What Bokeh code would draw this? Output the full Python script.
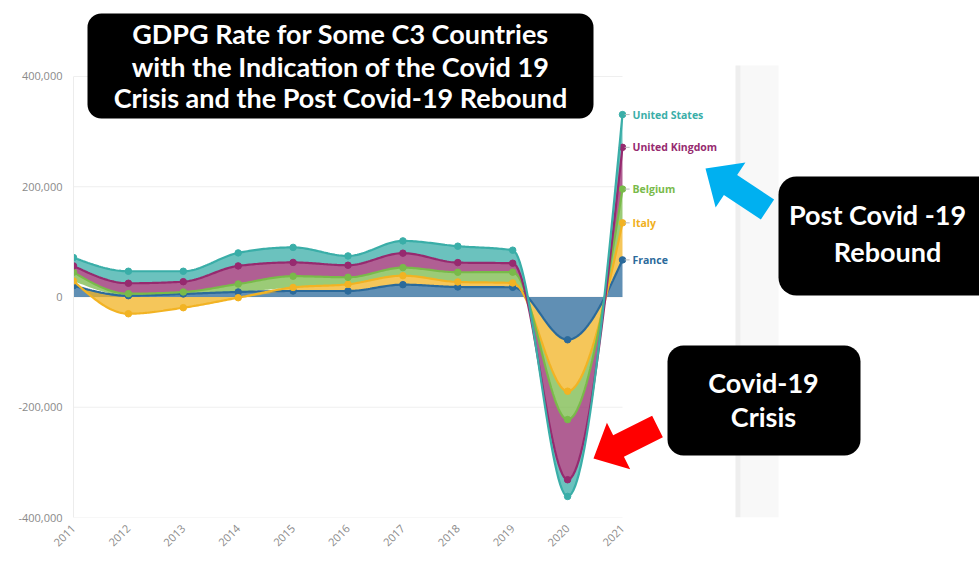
import math
import numpy as np
from bokeh.plotting import figure
from bokeh.models import Range1d, FixedTicker, NumeralTickFormatter, BoxAnnotation
from bokeh.core.properties import value
from bokeh.embed import file_html
from bokeh.resources import INLINE

# ---------------- data ----------------
years = [2011, 2012, 2013, 2014, 2015, 2016, 2017, 2018, 2019, 2020, 2021]
countries = ["France", "Italy", "Belgium", "United Kingdom", "United States"]
france = [20500, 2400, 5500, 9100, 10900, 10900, 22400, 18200, 17600, -77600, 67300]
italy = [8600, -30400, -19400, -1300, 6400, 12200, 16300, 9100, 7900, -93300, 67200]
belgium = [15800, 3600, 3600, 14500, 20500, 12700, 14600, 17600, 19600, -51500, 61300]
uk = [11500, 18900, 18700, 32800, 24900, 21800, 26200, 17500, 16200, -109100, 75700]
us = [15100, 21800, 18900, 23600, 27300, 16900, 22300, 29800, 23600, -30300, 59400]
y_ticks = [-400000, -200000, 0, 200000, 400000]

series = [france, italy, belgium, uk, us]
line_colors = ["#2b6a9b", "#f2b323", "#79ba4a", "#962a6f", "#3aaea8"]
label_colors = ["#2b6a9b", "#f0b020", "#79ba4a", "#962a6f", "#3aaea8"]

# ---------------- stacking (positives and negatives stacked separately) ----------------
n = len(years)
lowers, uppers = [], []
pos = np.zeros(n)
neg = np.zeros(n)
for s in series:
    v = np.array(s, dtype=float)
    lo = np.where(v >= 0, pos, neg)
    up = lo + v
    pos = np.where(v >= 0, up, pos)
    neg = np.where(v < 0, up, neg)
    lowers.append(lo)
    uppers.append(up)


def monotone(xs, ys, steps=30):
    """Monotone-X cubic curve through the points (as drawn by d3's curveMonotoneX)."""
    xs = np.asarray(xs, float)
    ys = np.asarray(ys, float)
    h = np.diff(xs)
    s = np.diff(ys) / h
    m = np.zeros(len(xs))
    for i in range(1, len(xs) - 1):
        s0, s1 = s[i - 1], s[i]
        p = (s0 * h[i] + s1 * h[i - 1]) / (h[i - 1] + h[i])
        m[i] = (np.sign(s0) + np.sign(s1)) * min(abs(s0), abs(s1), 0.5 * abs(p))
    m[0] = (3 * s[0] - m[1]) / 2
    m[-1] = (3 * s[-1] - m[-2]) / 2
    ox, oy = [], []
    for i in range(len(xs) - 1):
        t = np.linspace(0, 1, steps, endpoint=(i == len(xs) - 2))
        h00 = 2 * t**3 - 3 * t**2 + 1
        h10 = t**3 - 2 * t**2 + t
        h01 = -2 * t**3 + 3 * t**2
        h11 = t**3 - t**2
        ox.extend(xs[i] + t * h[i])
        oy.extend(h00 * ys[i] + h10 * h[i] * m[i] + h01 * ys[i + 1] + h11 * h[i] * m[i + 1])
    return np.array(ox), np.array(oy)


# ---------------- figure ----------------
p = figure(
    width=979, height=563,
    x_range=Range1d(2011, 2027.503), y_range=Range1d(-400000, 537868),
    output_backend="svg", toolbar_location=None,
    min_border_left=73, min_border_right=0, min_border_top=0, min_border_bottom=46,
)
p.extra_x_ranges = {"px": Range1d(73, 979)}
p.extra_y_ranges = {"py": Range1d(517, 0)}
p.outline_line_color = None
p.xgrid.grid_line_color = None
p.ygrid.grid_line_color = None

# light panel strip of the source page
p.quad(left=[740], right=[778], top=[65], bottom=[517], x_range_name="px", y_range_name="py",
       fill_color="#f8f8f8", line_color=None)
p.quad(left=[735], right=[740], top=[65], bottom=[517], x_range_name="px", y_range_name="py",
       fill_color="#eeeeee", line_color=None)

# grid lines across the years only
p.segment(x0=years[0], x1=years[-1], y0=y_ticks, y1=y_ticks, line_color="#efefef", line_width=1)

# axes
p.xaxis.ticker = FixedTicker(ticks=years)
p.xaxis.major_label_orientation = math.pi / 4
p.xaxis.axis_line_color = None
p.xaxis.major_tick_line_color = None
p.xaxis.minor_tick_line_color = None
p.xaxis.major_label_text_color = "#8a8a8a"
p.xaxis.major_label_text_font = "Open Sans"
p.xaxis.major_label_text_font_size = "11px"
p.xaxis.major_label_standoff = 3

p.yaxis.ticker = FixedTicker(ticks=y_ticks)
p.yaxis.formatter = NumeralTickFormatter(format="0,0")
p.yaxis.axis_line_color = "#ececec"
p.yaxis.bounds = (-400000, 400000)
p.yaxis.major_tick_line_color = None
p.yaxis.minor_tick_line_color = None
p.yaxis.major_label_text_color = "#8a8a8a"
p.yaxis.major_label_text_font = "Open Sans"
p.yaxis.major_label_text_font_size = "11px"
p.yaxis.major_label_standoff = 5

# stacked areas
for lo, up, col in zip(lowers, uppers, line_colors):
    cx, clo = monotone(years, lo)
    _, cup = monotone(years, up)
    p.varea(x=cx, y1=clo, y2=cup, fill_color=col, fill_alpha=0.75)

# lines and points
for up, col in zip(uppers, line_colors):
    cx, cup = monotone(years, up)
    p.line(x=cx, y=cup, line_color=col, line_width=2.2)
    p.scatter(x=years, y=up, size=6.5, fill_color=col, line_color=col)

# end labels
ends = [u[-1] for u in uppers]
p.segment(x0=[years[-1] + 0.04] * 5, x1=[years[-1] + 0.13] * 5, y0=ends, y1=ends,
          line_color="#bbbbbb", line_width=1)
p.text(x=[years[-1]] * 5, y=ends, text=countries, x_offset=10,
       text_font=value("Open Sans"), text_font_style="bold", text_font_size="10.5px",
       text_color=label_colors, text_baseline="middle", text_align="left")


# ---------------- call-outs ----------------
def block_arrow(tail, tip, shaft_w, head_w, head_l):
    tx, ty = tail
    hx, hy = tip
    L = math.hypot(hx - tx, hy - ty)
    ux, uy = (hx - tx) / L, (hy - ty) / L
    nx, ny = -uy, ux
    bx, by = hx - ux * head_l, hy - uy * head_l
    pts = [
        (tx + nx * shaft_w / 2, ty + ny * shaft_w / 2),
        (bx + nx * shaft_w / 2, by + ny * shaft_w / 2),
        (bx + nx * head_w / 2, by + ny * head_w / 2),
        (hx, hy),
        (bx - nx * head_w / 2, by - ny * head_w / 2),
        (bx - nx * shaft_w / 2, by - ny * shaft_w / 2),
        (tx - nx * shaft_w / 2, ty - ny * shaft_w / 2),
    ]
    return [q[0] for q in pts], [q[1] for q in pts]


bx_, by_ = block_arrow((767, 209), (705, 168), 24, 54, 30)
r = p.patch(bx_, by_, x_range_name="px", y_range_name="py", fill_color="#00b0f0", line_color=None)
r.level = "overlay"
rx_, ry_ = block_arrow((657, 426), (593, 458), 24, 52, 28)
r = p.patch(rx_, ry_, x_range_name="px", y_range_name="py", fill_color="#ff0000", line_color=None)
r.level = "overlay"

for (l, rr, t, b, rad) in [(87, 593, 13, 118, 14), (778, 1000, 176, 295, 18), (667, 860, 345, 455, 16)]:
    p.add_layout(BoxAnnotation(left=l, right=rr, top=t, bottom=b, x_range_name="px", y_range_name="py",
                               fill_color="black", fill_alpha=1, line_color=None, border_radius=rad))

box_text_x = [340, 340, 340, 877, 887, 763, 763]
box_text_y = [33, 66, 97, 214, 251, 382, 416]
box_texts = ["GDPG Rate for Some C3 Countries", "with the Indication of the Covid 19",
             "Crisis and the Post Covid-19 Rebound", "Post Covid -19", "Rebound",
             "Covid-19", "Crisis"]
t = p.text(x=box_text_x, y=box_text_y, text=box_texts, x_range_name="px", y_range_name="py",
           text_font=value("Lato"), text_font_style="bold", text_font_size="27px",
           text_color="white", text_align="center", text_baseline="alphabetic")
t.level = "overlay"

open("out.html", "w").write(file_html(p, INLINE))
